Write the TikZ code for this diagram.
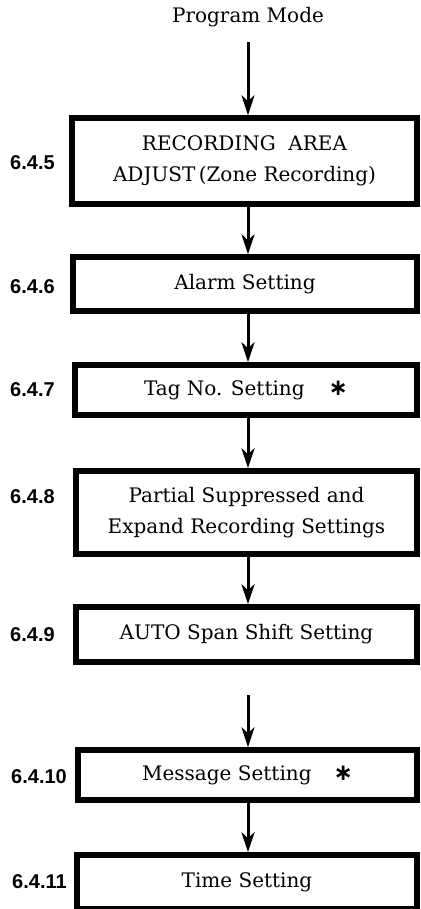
\documentclass[tikz,border=0pt]{standalone}
\usepackage{fontspec}
\setmainfont{DejaVu Serif}
\newfontfamily\labelfont{Liberation Sans}
\newfontfamily\starfont{DejaVu Sans}
\newcommand{\stepstar}{{\starfont\bfseries\fontsize{23}{23}\selectfont ∗}}
\usetikzlibrary{arrows.meta}
\tikzset{
  stepbox/.style={draw=black, line width=5.5pt, inner sep=0pt, align=center,
    font=\fontsize{20}{30.5}\selectfont},
  secnum/.style={anchor=west, inner sep=0pt, font=\labelfont\bfseries\fontsize{20}{24}\selectfont},
  flowarrow/.style={line width=3pt, -{Stealth[length=20pt, width=13pt, inset=6pt]}},
  title/.style={inner sep=0pt, font=\fontsize{20}{24}\selectfont}
}
\begin{document}
\begin{tikzpicture}[x=1pt, y=-1pt]
\useasboundingbox (0,0) rectangle (420,909);
% title
\node[title] (pm) at (248,17) {Program Mode};
\coordinate (s1) at (248,42);
% boxes (path-centre coordinates)
\node[stepbox, minimum width=345pt, minimum height=86pt] (b1) at (244.5,161)
  {RECORDING\ \ AREA\\ADJUST\,(Zone Recording)};
\node[stepbox, minimum width=344pt, minimum height=54pt] (b2) at (245,284) {Alarm Setting};
\node[stepbox, minimum width=342pt, minimum height=50pt] (b3) at (246,390) {Tag No. Setting\hspace{24pt}\stepstar};
\node[stepbox, minimum width=341pt, minimum height=83pt] (b4) at (246.5,512.5)
  {Partial Suppressed and\\Expand Recording Settings};
\node[stepbox, minimum width=341pt, minimum height=55pt] (b5) at (246.5,634.5) {AUTO Span Shift Setting};
\node[stepbox, minimum width=339pt, minimum height=50pt] (b6) at (247.5,775) {Message Setting\hspace{22pt}\stepstar};
\node[stepbox, minimum width=340pt, minimum height=54pt] (b7) at (247,882) {Time Setting};
\coordinate (s6) at (248,695);
% section numbers
\node[secnum] (n1) at (10,163) {6.4.5};
\node[secnum] (n2) at (10,287) {6.4.6};
\node[secnum] (n3) at (10,390) {6.4.7};
\node[secnum] (n4) at (10,497) {6.4.8};
\node[secnum] (n5) at (10,635) {6.4.9};
\node[secnum] (n6) at (11,777) {6.4.10};
\node[secnum] (n7) at (12,882) {6.4.11};
% arrows
\draw[flowarrow] (s1) -- (s1 |- b1.north);
\draw[flowarrow] (b1.south -| s1) -- (b2.north -| s1);
\draw[flowarrow] (b2.south -| s1) -- (b3.north -| s1);
\draw[flowarrow] (b3.south -| s1) -- (b4.north -| s1);
\draw[flowarrow] (b4.south -| s1) -- (b5.north -| s1);
\draw[flowarrow] (s6) -- (s6 |- b6.north);
\draw[flowarrow] (b6.south -| s1) -- (b7.north -| s1);
\end{tikzpicture}
\end{document}
